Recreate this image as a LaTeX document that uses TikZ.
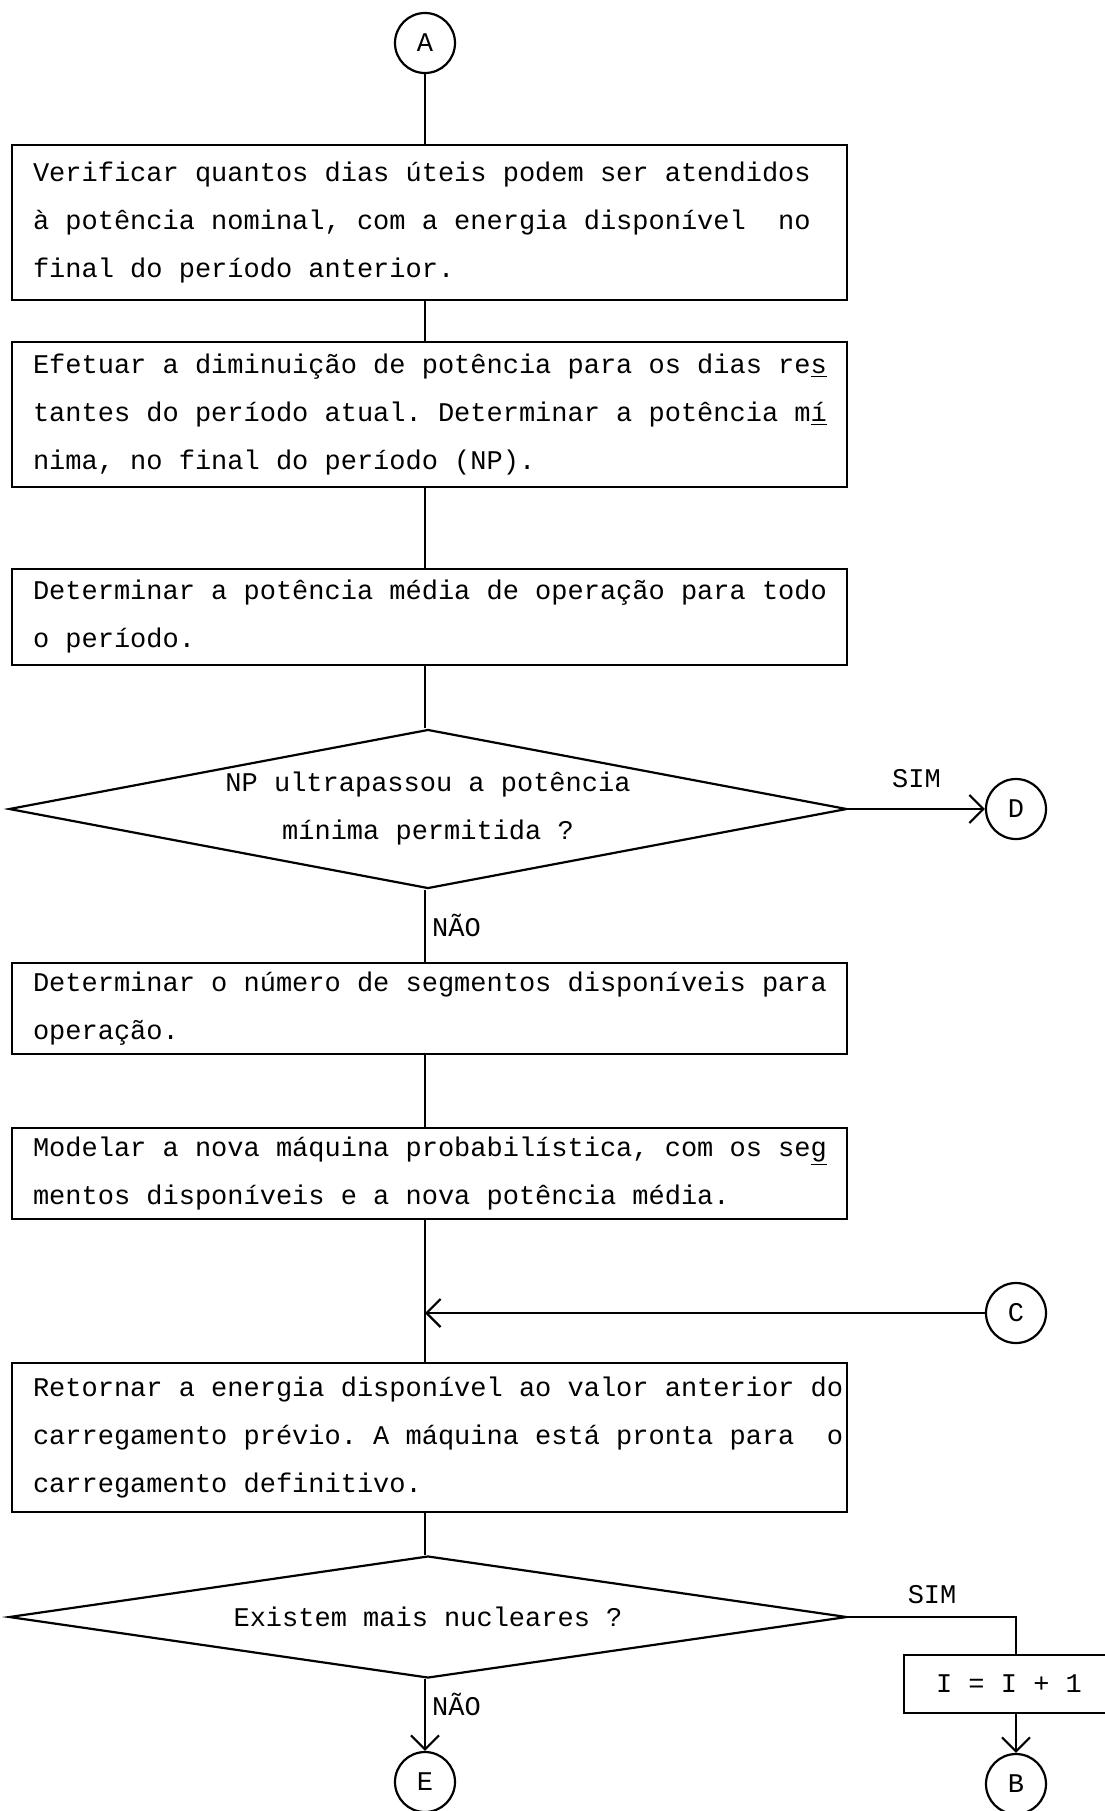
\documentclass[tikz,border=0pt]{standalone}
\usepackage{fontspec}
\usepackage{tikz}
\usetikzlibrary{arrows.meta, shapes.geometric}
\newfontfamily\typewriter{Liberation Mono}

\begin{document}
\begin{tikzpicture}[x=0.5pt, y=-0.5pt,
        % Set global font for consistency
        font=\typewriter\fontsize{13.5}{24}\selectfont\frenchspacing,
        % Define reusable styles for the elements of the chart
        flow/.style={line width=1.1pt, black},
        arrow/.style={flow, -{Straight Barb[length=7pt, width=14pt]}},
        connector/.style={draw, circle, line width=1.1pt, minimum size=30pt, inner sep=0pt},
        stepbox/.style={draw, rectangle, line width=1.1pt, text width=417.5pt, inner xsep=0pt,
            inner ysep=0pt, align=left,
            execute at begin node={\leftskip=10.5pt\spaceskip=0pt\xspaceskip=0pt}},
        decision/.style={draw, diamond, line width=1.1pt, minimum width=419pt, align=center, inner sep=0pt},
        counter/.style={draw, rectangle, line width=1.1pt, minimum width=105pt, minimum height=29pt},
        answer/.style={inner sep=3pt}
    ]
    \useasboundingbox (0,0) rectangle (1104,1811);

    \node[connector] (A) at (425,43) {A};

    \node[stepbox, minimum height=77.5pt] (b1) at (429.5,222.5)
        {Verificar quantos dias úteis podem ser atendidos\\
         à potência nominal, com a energia disponível\ \ no\\
         final do período anterior.};
    \node[stepbox, minimum height=72.5pt] (b2) at (429.5,414.5)
        {Efetuar a diminuição de potência para os dias re\underline{s}\\
         tantes do período atual. Determinar a potência m\underline{í}\\
         nima, no final do período (NP).};
    \node[stepbox, minimum height=48pt] (b3) at (429.5,617)
        {Determinar a potência média de operação para todo\\
         o período.};

    \node[decision, minimum height=79.5pt, aspect=5.27] (d1) at (428,809)
        {NP ultrapassou a potência\\mínima permitida ?};
    \node[connector] (D) at (1016,809) {D};

    \node[stepbox, minimum height=45.5pt] (b4) at (429.5,1008.5)
        {Determinar o número de segmentos disponíveis para\\
         operação.};
    \node[stepbox, minimum height=45.5pt] (b5) at (429.5,1173.5)
        {Modelar a nova máquina probabilística, com os se\underline{g}\\
         mentos disponíveis e a nova potência média.};

    \node[connector] (C) at (1016,1313) {C};

    \node[stepbox, minimum height=74.5pt] (b6) at (429.5,1437.5)
        {Retornar a energia disponível ao valor anterior do\\
         carregamento prévio. A máquina está pronta para\ \ o\\
         carregamento definitivo.};

    \node[decision, minimum height=61pt, aspect=6.87] (d2) at (428,1617)
        {Existem mais nucleares ?};

    \node[counter] (inc) at (1009,1684) {I = I + 1};
    \node[connector] (E) at (425,1782) {E};
    \node[connector] (B) at (1016,1784) {B};

    % Main line
    \draw[flow] (A) -- (A |- b1.north);
    \draw[flow] (A |- b1.south) -- (A |- b2.north);
    \draw[flow] (A |- b2.south) -- (A |- b3.north);
    \draw[flow] (A |- b3.south) -- (A |- d1.north);
    \draw[arrow] (d1.east) -- node[answer, above=7pt] {SIM} (D);
    \draw[flow] (A |- d1.south) -- node[answer, right] {NÃO} (A |- b4.north);
    \draw[flow] (A |- b4.south) -- (A |- b5.north);
    \draw[flow] (A |- b5.south) -- (A |- b6.north);
    \draw[arrow] (C) -- (C -| A);
    \draw[flow] (A |- b6.south) -- (A |- d2.north);
    \draw[arrow] (A |- d2.south) -- node[answer, right, pos=0.35] {NÃO} (E);

    % Loop to next plant
    \draw[flow] (d2.east) -- node[answer, above=3pt] {SIM} (d2.east -| B) -- (B |- inc.north);
    \draw[arrow] (B |- inc.south) -- (B);
\end{tikzpicture}
\end{document}
